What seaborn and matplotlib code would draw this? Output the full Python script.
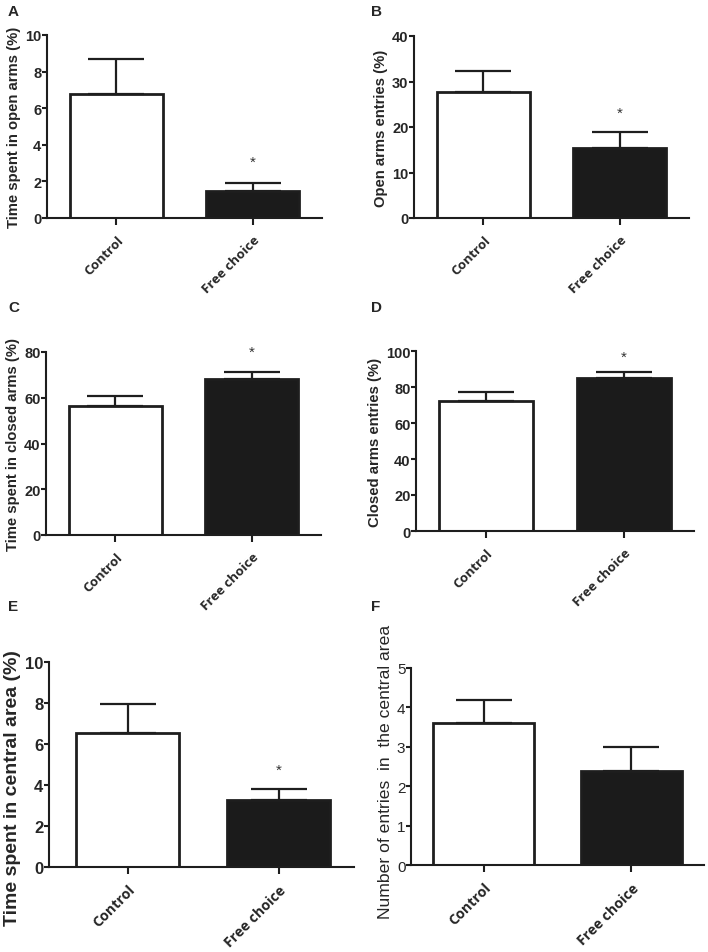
import matplotlib
matplotlib.use("Agg")
import matplotlib.pyplot as plt
import seaborn as sns
import pandas as pd

# data (mean, upper SEM, asterisk height)
groups = ["Control", "Free choice"]

open_time = [6.8, 1.5]
open_time_err = [1.9, 0.42]
open_entries = [27.7, 15.3]
open_entries_err = [4.6, 3.5]
closed_time = [56.2, 68.3]
closed_time_err = [4.4, 3.0]
closed_entries = [72.5, 85.0]
closed_entries_err = [4.5, 3.5]
central_time = [6.55, 3.25]
central_time_err = [1.4, 0.55]
central_entries = [3.6, 2.38]
central_entries_err = [0.58, 0.62]

star_heights = {"A": 3.05, "B": 23.2, "C": 80.0, "D": 97.0, "E": 4.75, "F": None}

W, H = 708, 953

sns.set_style("ticks")
plt.rcParams["font.family"] = ["Liberation Sans", "DejaVu Sans"]

fig = plt.figure(figsize=(W / 100, H / 100), dpi=100)

EDGE = "#1e1e1e"
BLACK = "#1b1b1b"


def make_axes(box):
    l, t, r, b = box
    return fig.add_axes([l / W, 1 - b / H, (r - l) / W, (b - t) / H])


def panel(box, means, errs, ylabel, ymax, ystep, star, xlim, tick_fs=10.5,
          label_fs=10.7, label_weight="bold", tick_weight="bold", xtick_fs=9.5,
          label_y=0.5):
    ax = make_axes(box)
    df = pd.DataFrame({"group": groups, "value": means})
    sns.barplot(data=df, x="group", y="value", hue="group", palette=["white", BLACK],
                width=0.68, errorbar=None, legend=False, ax=ax,
                edgecolor=EDGE, linewidth=2.0)
    xs = [p.get_x() + p.get_width() / 2 for p in ax.patches]
    ax.errorbar(xs, means, yerr=[[0, 0], errs], fmt="none", ecolor=EDGE,
                elinewidth=1.6, capsize=20, capthick=1.6, zorder=1)
    if star is not None:
        ax.text(xs[1], star, "*", ha="center", va="center", fontsize=11,
                color="#333333")
    ax.set_ylim(0, ymax)
    ax.set_yticks([ystep * i for i in range(int(round(ymax / ystep)) + 1)])
    ax.set_xlim(*xlim)
    ax.set_xlabel("")
    ax.set_ylabel(ylabel, fontsize=label_fs, fontweight=label_weight, labelpad=3)
    ax.yaxis.label.set_y(label_y)
    sns.despine(ax=ax)
    for s in ["left", "bottom"]:
        ax.spines[s].set_linewidth(1.5)
        ax.spines[s].set_color(EDGE)
    ax.tick_params(axis="y", length=3.5, width=1.5, pad=0.5, labelsize=tick_fs,
                   color=EDGE)
    ax.tick_params(axis="x", length=5, width=1.5, pad=6, color=EDGE)
    for lab in ax.get_yticklabels():
        lab.set_fontweight(tick_weight)
    ax.set_xticks(range(len(groups)))
    ax.set_xticklabels(groups, rotation=45, ha="right", rotation_mode="anchor",
                       fontsize=xtick_fs, fontweight="bold",
                       family=["Open Sans", "DejaVu Sans"])
    return ax


panel((47, 36, 322, 219), open_time, open_time_err,
      "Time spent in open arms (%)", 10, 2, star_heights["A"], (-0.51, 1.51))
panel((414, 37, 689, 219), open_entries, open_entries_err,
      "Open arms entries (%)", 40, 10, star_heights["B"], (-0.51, 1.51))
panel((46, 353, 321, 536), closed_time, closed_time_err,
      "Time spent in closed arms (%)", 80, 20, star_heights["C"], (-0.51, 1.51))
panel((416, 352, 694, 532), closed_entries, closed_entries_err,
      "Closed arms entries (%)", 100, 20, star_heights["D"], (-0.51, 1.51))
panel((49, 663, 354, 868), central_time, central_time_err,
      "Time spent in central area (%)", 10, 2, star_heights["E"], (-0.52, 1.5),
      tick_fs=12, label_fs=14, xtick_fs=10.3, label_y=0.39)
panel((411, 669, 704, 866), central_entries, central_entries_err,
      "Number of entries  in  the central area", 5, 1, star_heights["F"],
      (-0.49, 1.49), tick_fs=11, label_fs=12.6, label_weight="normal",
      tick_weight="normal", xtick_fs=10.3, label_y=0.48)

letters = {"A": (8, 12), "B": (371, 12), "C": (8, 308), "D": (371, 308),
           "E": (8, 607), "F": (371, 607)}
for k, (x, y) in letters.items():
    fig.text(x / W, 1 - y / H, k, fontsize=11, fontweight="bold",
             ha="left", va="center")

fig.savefig("out.png", dpi=100)
